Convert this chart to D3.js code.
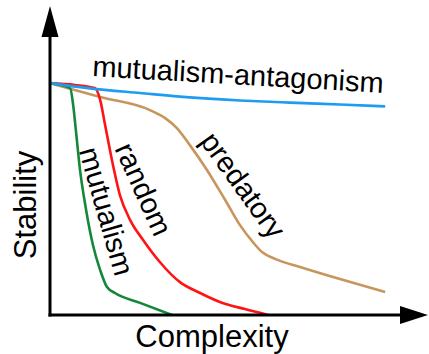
<!DOCTYPE html>
<html><head><meta charset="utf-8">
<script src="https://cdn.jsdelivr.net/npm/d3@7"></script>
<style>html,body{margin:0;padding:0;background:#fff;}svg{display:block;font-family:"Liberation Sans",Arial,sans-serif;}</style>
</head><body>
<script>
// complexity (0-100) vs stability (0-100)
const mutualismAntagonism = [[0,74.8],[10.5,73.1],[23.7,71.6],[36.8,70.2],[50,69.2],[63.2,68.5],[76.3,67.9],[88.2,67.3]];
const mutualism = [[0,74.8],[5.3,73.2],[6.1,67.7],[6.8,59.7],[7.9,46.8],[9.5,33.9],[11.3,22.6],[13.2,14.5],[15,9],[17.1,7.1],[23.7,3.9],[32.1,0]];
const random = [[0,74.8],[6.6,74.2],[11.8,73.2],[13.2,69.4],[14.5,61.3],[16.3,50],[18.4,38.7],[21.1,30.6],[24.5,24.2],[28.9,17.1],[34.2,10.6],[39.5,7.1],[44.7,4.2],[51.3,1.9],[57.4,0]];
const predatory = [[0,74.8],[13.2,70.3],[26.3,66.1],[30.3,63.5],[33.4,60.3],[36.8,54.8],[41.3,46.8],[46.1,37.1],[50,29],[53.4,23.5],[55.8,20.3],[59.2,18.1],[65.8,15.5],[76.3,11.6],[88.2,7.4]];
const seriesNames = ["mutualism-antagonism","mutualism","random","predatory"];
const seriesColors = ["#1e9cf2","#14883a","#ff1414","#c8955c"];
const axisTitles = ["Complexity","Stability"];

const W=429,H=354;
const svg=d3.select("body").append("svg").attr("width",W).attr("height",H);
const x=d3.scaleLinear().domain([0,100]).range([50,430]);
const y=d3.scaleLinear().domain([0,100]).range([315,5]);

const line=d3.line().x(d=>x(d[0])).y(d=>y(d[1])).curve(d3.curveMonotoneX);
const data=[mutualismAntagonism,mutualism,random,predatory];
[3,2,1,0].forEach(i=>{
  svg.append("path").attr("d",line(data[i])).attr("fill","none")
    .attr("stroke",seriesColors[i]).attr("stroke-width",2.6).attr("stroke-linejoin","round");
});

// axes with arrows
const x0=x(0), y0=y(0);
svg.append("line").attr("x1",x0).attr("y1",y0+1.5).attr("x2",x0).attr("y2",y(95)).attr("stroke","#000").attr("stroke-width",3);
svg.append("line").attr("x1",x0-1.5).attr("y1",y0).attr("x2",x(94)).attr("y2",y0).attr("stroke","#000").attr("stroke-width",3);
svg.append("path").attr("d",`M${x0},6 L${x0-8.5},37 L${x0+8.5},37 Z`).attr("fill","#000");
svg.append("path").attr("d",`M428,${y0} L400,${y0-9} L400,${y0+9} Z`).attr("fill","#000");

// axis titles
svg.append("text").attr("x",212).attr("y",347).attr("text-anchor","middle").attr("font-size",31).attr("fill","#000").text(axisTitles[0]);
svg.append("text").attr("transform","translate(36,205) rotate(-90)").attr("text-anchor","middle").attr("font-size",31).attr("fill","#000").text(axisTitles[1]);

// curve labels
const labels=[
  {t:seriesNames[0],px:237.5,py:84.5,a:3.3},
  {t:seriesNames[1],px:97,py:214,a:74},
  {t:seriesNames[2],px:134.5,py:193.3,a:65.7},
  {t:seriesNames[3],px:235,py:191,a:54.3}
];
labels.forEach(l=>{
  svg.append("text").attr("transform",`translate(${l.px},${l.py}) rotate(${l.a})`)
    .attr("text-anchor","middle").attr("font-size",29).attr("fill","#000").text(l.t);
});
</script>
</body></html>
